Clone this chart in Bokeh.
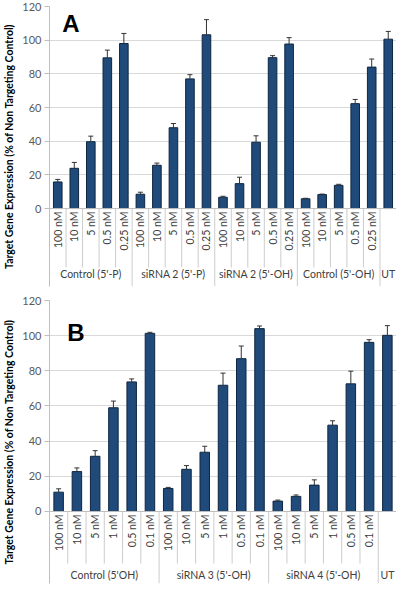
import math
from bokeh.plotting import figure
from bokeh.models import FactorRange, Range1d, FixedTicker, ColumnDataSource, Span
from bokeh.layouts import column
from bokeh.embed import file_html
from bokeh.resources import INLINE
from bokeh.core.properties import value

# ---------------- data ----------------
A_groups = ["Control (5'-P)", "siRNA 2 (5'-P)", "siRNA 2 (5'-OH)", "Control (5'-OH)", "UT"]
A_conc = ["100 nM", "10 nM", "5 nM", "0.5 nM", "0.25 nM"]
A_values = [15.8, 23.9, 39.7, 89.5, 98.0,
            8.5, 25.7, 48.0, 77.0, 103.2,
            6.7, 14.8, 39.4, 89.6, 97.7,
            5.8, 8.3, 13.8, 62.3, 84.0,
            100.6]
A_errors = [1.5, 3.5, 3.3, 4.6, 6.0,
            1.2, 1.3, 2.5, 2.5, 9.0,
            0.6, 3.8, 3.8, 1.2, 3.8,
            0.3, 0.3, 0.6, 2.5, 4.8,
            4.6]

B_groups = ["Control (5'OH)", "siRNA 3 (5'-OH)", "siRNA 4 (5'-OH)", "UT"]
B_conc = ["100 nM", "10 nM", "5 nM", "1 nM", "0.5 nM", "0.1 nM"]
B_values = [11.0, 22.7, 31.4, 59.0, 73.7, 101.3,
            13.1, 24.0, 33.7, 71.8, 86.9, 104.0,
            5.9, 8.6, 15.0, 49.1, 72.6, 96.2,
            100.2]
B_errors = [1.9, 2.1, 3.2, 3.8, 1.7, 0.6,
            0.6, 2.1, 3.4, 6.9, 7.2, 1.5,
            0.6, 0.8, 3.0, 2.5, 7.2, 1.5,
            5.5]

y_ticks = [0, 20, 40, 60, 80, 100, 120]
y_label = "Target Gene Expression (% of Non Targeting Control)"

FONT = "Lato"
BAR_FILL = "#1F4A7A"
BAR_LINE = "#0E2640"
GRID = "#d9d9d9"
SEP = "#cccccc"
TXT = "#404040"


def make_panel(letter, groups, concs, values, errors, height, b_top, b_bottom,
               ymin, sub_y, sep_depth, group_y, letter_off, letter_y):
    factors, sub_text = [], []
    inner_seps, group_seps, group_centers = [], [], []
    for g in groups:
        subs = [""] if g == "UT" else concs
        for i, s in enumerate(subs):
            factors.append((g, s))
            sub_text.append(s)
            if i > 0:
                inner_seps.append((g, s, -0.5))
        group_seps.append((g, subs[0], -0.5))
        group_centers.append((g, subs[0], (len(subs) - 1) / 2))
    last = factors[-1]
    group_seps.append((last[0], last[1], 0.5))

    p = figure(width=396, height=height,
               x_range=FactorRange(*factors, group_padding=0, factor_padding=0, range_padding=0),
               y_range=Range1d(ymin, 120),
               x_axis_location=None,
               output_backend="svg", toolbar_location=None,
               min_border_left=44, min_border_right=0,
               min_border_top=b_top, min_border_bottom=b_bottom)
    p.outline_line_color = None
    p.background_fill_color = "white"
    p.border_fill_color = "white"
    p.xgrid.visible = False
    p.ygrid.ticker = FixedTicker(ticks=y_ticks)
    p.ygrid.grid_line_color = GRID

    ax = p.yaxis[0]
    ax.ticker = FixedTicker(ticks=y_ticks)
    ax.axis_line_color = "#bfbfbf"
    ax.major_tick_line_color = "#bfbfbf"
    ax.major_tick_out = 5
    ax.major_tick_in = 0
    ax.minor_tick_line_color = None
    ax.major_label_standoff = 3
    ax.major_label_text_font = FONT
    ax.major_label_text_font_size = "11px"
    ax.major_label_text_color = "#595959"
    ax.axis_label = y_label
    ax.axis_label_text_font = FONT
    ax.axis_label_text_font_style = "bold"
    ax.axis_label_text_font_size = "10.5px"
    ax.axis_label_text_color = "black"
    ax.axis_label_standoff = 4

    # zero line (category axis line)
    p.add_layout(Span(location=0, dimension="width", line_color="#bfbfbf", line_width=1))

    # category separators
    p.segment(x0=inner_seps, y0=[0] * len(inner_seps), x1=inner_seps,
              y1=[sep_depth] * len(inner_seps), line_color=SEP, line_width=1)
    p.segment(x0=group_seps, y0=[0] * len(group_seps), x1=group_seps,
              y1=[ymin] * len(group_seps), line_color=SEP, line_width=1)

    # bars
    tops = [v + e for v, e in zip(values, errors)]
    src = ColumnDataSource(dict(x=factors, top=values, hi=tops))
    p.vbar(x="x", top="top", width=0.52, source=src,
           fill_color=BAR_FILL, line_color=BAR_LINE, line_width=1)
    # error bars (upper)
    p.segment(x0="x", y0="top", x1="x", y1="hi", source=src,
              line_color="#333333", line_width=1)
    p.scatter(x="x", y="hi", source=src, marker="dash", size=5,
              line_color="#333333", line_width=1)

    # sub-category labels
    p.text(x=factors, y=[sub_y] * len(factors), text=sub_text, angle=math.pi / 2,
           text_align="right", text_baseline="middle",
           text_font=value(FONT), text_font_size="10.5px", text_color=TXT)
    # group labels
    p.text(x=group_centers, y=[group_y] * len(group_centers), text=list(groups),
           text_align="center", text_baseline="middle",
           text_font=value(FONT), text_font_size="10.5px", text_color=TXT)
    # panel letter
    p.text(x=[(groups[0], concs[0], letter_off)], y=[letter_y], text=[letter],
           text_align="left", text_baseline="alphabetic",
           text_font=value("Liberation Sans"), text_font_style="bold",
           text_font_size="24px", text_color="black")
    return p


pA = make_panel("A", A_groups, A_conc, A_values, A_errors, height=290, b_top=6, b_bottom=4,
                ymin=-46.3, sub_y=-1.8, sep_depth=-35.0, group_y=-38.8,
                letter_off=0.27, letter_y=109.9)
pB = make_panel("B", B_groups, B_conc, B_values, B_errors, height=295, b_top=10, b_bottom=2,
                ymin=-40.95, sub_y=-1.7, sep_depth=-29.6, group_y=-36.4,
                letter_off=0.47, letter_y=101.8)

layout = column(pA, pB, spacing=0)
open("out.html", "w").write(file_html(layout, INLINE))
